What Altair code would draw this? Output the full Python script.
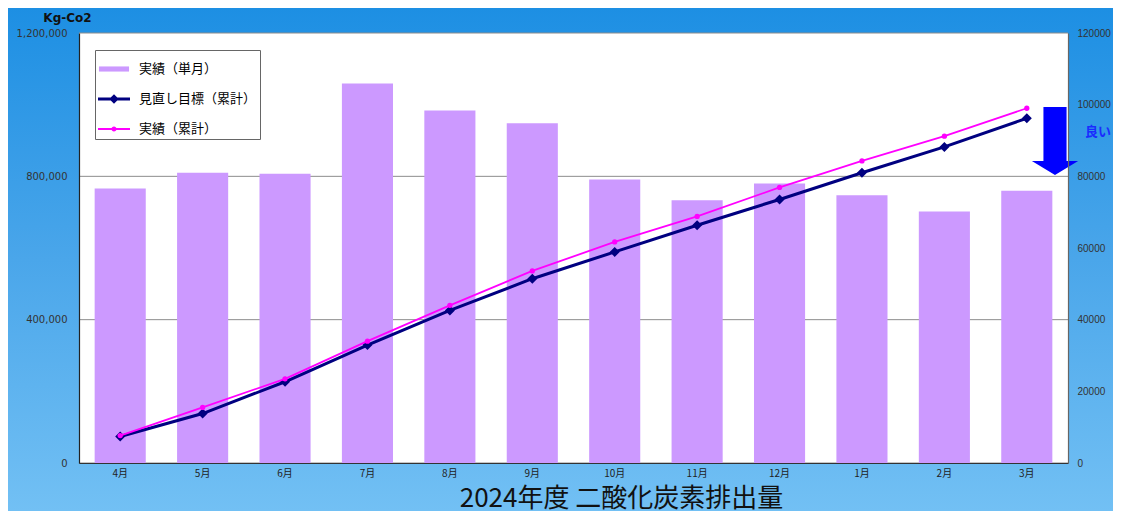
import altair as alt
import pandas as pd

months = ["4月", "5月", "6月", "7月", "8月", "9月", "10月", "11月", "12月", "1月", "2月", "3月"]
monthly_actual = [76600, 81000, 80700, 105900, 98400, 94800, 79100, 73300, 78000, 74700, 70200, 76000]
target_cum = [74000, 138000, 226700, 329000, 425800, 514300, 589000, 663600, 735500, 810000, 882000, 962000]
actual_cum = [76600, 155000, 235000, 340000, 440000, 536000, 617000, 688000, 769000, 843000, 912000, 990000]
series_names = ["実績（単月）", "見直し目標（累計）", "実績（累計）"]
series_colors = ["#cc99ff", "#000080", "#ff00ff"]
left_ticks = [0, 400000, 800000, 1200000]
right_ticks = [0, 20000, 40000, 60000, 80000, 100000, 120000]
title_text = "2024年度 二酸化炭素排出量"
unit_text = "Kg-Co2"
note_text = "良い"

W, H = 989, 430
PAD = {"left": 71, "top": 25, "right": 45, "bottom": 48}
CJK = "Noto Sans CJK JP"
NUM = "DejaVu Sans"

bars_df = pd.DataFrame({"month": months, "value": monthly_actual})
target_df = pd.DataFrame({"month": months, "value": target_cum})
actual_df = pd.DataFrame({"month": months, "value": actual_cum})
grid_df = pd.DataFrame({"v": left_ticks})
legend_df = pd.DataFrame({"series": series_names})
one = pd.DataFrame({"a": [0]})

# legend symbol shapes (filled paths, same winding)
legend_shapes = [
    "M-0.94,-0.16H0.94V0.16H-0.94Z",
    "M-1,-0.1H1V0.1H-1ZM-0.3,0L0,-0.3L0.3,0L0,0.3Z",
    "M-1,-0.06H1V0.06H-1ZM-0.16,0A0.16,0.16 0 1,1 0.16,0A0.16,0.16 0 1,1 -0.16,0Z",
]

xenc = alt.X("month:N", sort=months,
             scale=alt.Scale(paddingInner=0.38, paddingOuter=0.19),
             axis=alt.Axis(title=None, labelAngle=0, labelFont=CJK, labelFontSize=10,
                           labelColor="#222", domainColor="#333", domainWidth=1.2,
                           ticks=False, labelPadding=5, zindex=1))

grad = alt.LinearGradient(gradient="linear", x1=0, y1=0, x2=0, y2=1,
                          stops=[alt.GradientStop(color="#1d8fe3", offset=0),
                                 alt.GradientStop(color="#4aa6ea", offset=0.5),
                                 alt.GradientStop(color="#72c0f4", offset=1)])

bg = alt.Chart(one).mark_rect(fill=grad).encode(
    x=alt.value(-PAD["left"]), x2=alt.value(W + PAD["right"]),
    y=alt.value(-PAD["top"]), y2=alt.value(H + PAD["bottom"]))

plotbg = alt.Chart(one).mark_rect(fill="white").encode(
    x=alt.value(0), x2=alt.value(W), y=alt.value(0), y2=alt.value(H))

grid = alt.Chart(grid_df).mark_rule(color="#8c8c8c", strokeWidth=1).encode(
    y=alt.Y("v:Q", scale=alt.Scale(domain=[0, 1200000]), axis=None))

bars = alt.Chart(bars_df).mark_bar(color=series_colors[0]).encode(
    x=xenc,
    y=alt.Y("value:Q", scale=alt.Scale(domain=[0, 120000]),
            axis=alt.Axis(orient="right", title=None, values=right_ticks, format="d",
                          grid=False, ticks=False, labelFontSize=10, labelColor="#333",
                          labelFont="Liberation Sans", labelPadding=9,
                          domainColor="#666", domainWidth=1.2, zindex=1)))

yleft = alt.Y("value:Q", scale=alt.Scale(domain=[0, 1200000]),
              axis=alt.Axis(orient="left", values=left_ticks, format=",d", grid=False,
                            ticks=False, labelFontSize=10, labelColor="#333",
                            labelFont=NUM, labelPadding=12,
                            domainColor="#222", domainWidth=1.2, zindex=1,
                            title=unit_text, titleAngle=0, titleX=-12, titleY=-16,
                            titleAlign="center", titleBaseline="middle",
                            titleFontSize=12, titleFontWeight="bold", titleColor="#111",
                            titleFont=NUM))

tline = alt.Chart(target_df).mark_line(color=series_colors[1], strokeWidth=3).encode(x=xenc, y=yleft)
tpts = alt.Chart(target_df).mark_point(shape="diamond", filled=True, size=100, opacity=1,
                                       color=series_colors[1]).encode(x=xenc, y=yleft)
aline = alt.Chart(actual_df).mark_line(color=series_colors[2], strokeWidth=1.8).encode(x=xenc, y=yleft)
apts = alt.Chart(actual_df).mark_point(shape="circle", filled=True, size=28, opacity=1,
                                       color=series_colors[2]).encode(x=xenc, y=yleft)
lines = alt.layer(tline, tpts, aline, apts)

leg = alt.Legend(title=None, orient="none", legendX=16, legendY=17,
                 fillColor="white", strokeColor="#666", padding=3,
                 symbolSize=1024, rowPadding=7, labelFont=CJK,
                 labelFontSize=13, labelColor="#000", labelOffset=9,
                 symbolStrokeWidth=0, symbolOpacity=1)

legend_layer = alt.Chart(legend_df).mark_point(filled=True, opacity=1, size=1024).encode(
    x=alt.value(-2000), y=alt.value(-2000),
    color=alt.Color("series:N", scale=alt.Scale(domain=series_names, range=series_colors),
                    legend=leg),
    shape=alt.Shape("series:N", scale=alt.Scale(domain=series_names, range=legend_shapes),
                    legend=leg))

arrow = alt.Chart(one).mark_point(
    shape="M-0.34,-1H0.34V0.59H0.68L0,1L-0.68,0.59H-0.34Z",
    size=4624, filled=True, fill="#0000ff", opacity=1, strokeWidth=0).encode(
    x=alt.value(976), y=alt.value(108))

note = alt.Chart(one).mark_text(text=note_text, font=CJK, fontSize=13, fontWeight="bold",
                                color="#1a2cff").encode(x=alt.value(1019), y=alt.value(99))

chart = alt.layer(bg, plotbg, grid, bars, lines, arrow, note, legend_layer).resolve_scale(
    y="independent"
).properties(
    width=W, height=H, padding=PAD, autosize=alt.AutoSizeParams(type="none"),
    title=alt.TitleParams(title_text, orient="bottom", fontSize=26, font=CJK,
                          fontWeight="normal", color="#111", dx=48, dy=-25, offset=0)
).configure_view(strokeWidth=0)

chart.save("out.html", embed_options={"renderer": "svg", "actions": False})
